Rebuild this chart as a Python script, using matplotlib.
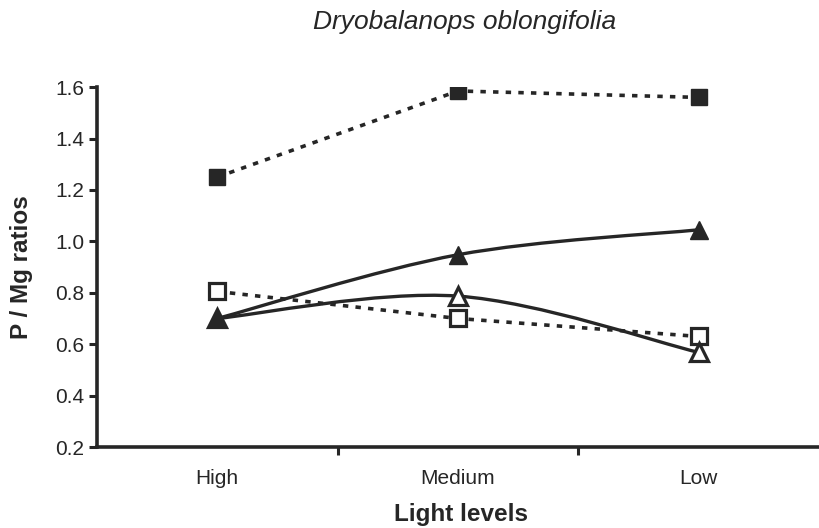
import numpy as np
import matplotlib
matplotlib.use('Agg')
import matplotlib.pyplot as plt
from matplotlib.path import Path
from matplotlib.patches import PathPatch

plt.rcParams['font.family'] = ['Liberation Sans', 'DejaVu Sans']

# Data
light_levels = ['High', 'Medium', 'Low']
filled_squares = [1.25, 1.585, 1.56]
open_squares = [0.805, 0.70, 0.63]
filled_triangles = [0.70, 0.948, 1.045]
open_triangles = [0.70, 0.787, 0.568]

INK = '#262626'


def smooth_path(xs, ys):
    """Bezier path through the points, like spreadsheet 'smoothed line'."""
    pts = np.column_stack([xs, ys]).astype(float)
    padded = np.vstack([pts[0], pts, pts[-1]])
    verts = [pts[0]]
    codes = [Path.MOVETO]
    for i in range(len(pts) - 1):
        p0, p1, p2, p3 = padded[i], padded[i + 1], padded[i + 2], padded[i + 3]
        c1 = p1 + (p2 - p0) / 6
        c2 = p2 - (p3 - p1) / 6
        verts += [c1, c2, p2]
        codes += [Path.CURVE4] * 3
    return Path(verts, codes)


fig = plt.figure(figsize=(8.19, 5.28), dpi=100)
ax = fig.add_axes([0.1184, 0.1534, 0.8816, 0.6816])

x = np.arange(len(light_levels))

# Dotted lines (squares)
ax.plot(x, filled_squares, linestyle=(0, (1.5, 2.0)), color=INK, lw=2.6, zorder=2)
ax.plot(x, open_squares, linestyle=(0, (1.5, 2.0)), color=INK, lw=2.6, zorder=2)

# Smoothed solid lines (triangles)
for series in (filled_triangles, open_triangles):
    ax.add_patch(PathPatch(smooth_path(x, series), facecolor='none',
                           edgecolor=INK, lw=2.4, zorder=2))

# Markers
ax.plot(x, filled_squares, linestyle='none', marker='s', ms=12,
        mfc=INK, mec=INK, zorder=4)
ax.plot(x, open_squares, linestyle='none', marker='s', ms=11,
        mfc='white', mec=INK, mew=2.3, zorder=4)
ax.plot(x, open_triangles, linestyle='none', marker='^', ms=12.5,
        mfc='white', mec=INK, mew=2.3, zorder=4)
ax.plot(x, filled_triangles, linestyle='none', marker='^', ms=13,
        mfc=INK, mec=INK, zorder=5)

ax.set_xlim(-0.5, 2.5)
ax.set_ylim(0.2, 1.6)

ax.set_yticks(np.arange(0.2, 1.61, 0.2))
ax.set_yticklabels([f'{v:.1f}' for v in np.arange(0.2, 1.61, 0.2)])
ax.set_xticks([0.5, 1.5])
ax.set_xticklabels([])
ax.set_xticks(x, minor=True)
ax.set_xticklabels(light_levels, minor=True)

ax.tick_params(axis='y', direction='out', length=6, width=2.2, color=INK,
               labelsize=15, labelcolor=INK, pad=3)
ax.tick_params(axis='x', which='major', direction='out', length=6, width=2.2, color=INK)
ax.tick_params(axis='x', which='minor', length=0, labelsize=15, labelcolor=INK, pad=16)

for side in ('top', 'right'):
    ax.spines[side].set_visible(False)
for side in ('left', 'bottom'):
    ax.spines[side].set_linewidth(2.6)
    ax.spines[side].set_color(INK)

ax.set_ylabel('P / Mg ratios', fontsize=17.5, fontweight='bold', color=INK)
ax.yaxis.set_label_coords(-0.088, 0.5)
fig.text(0.5625, 0.0133, 'Light levels', fontsize=17.5, fontweight='bold',
         color=INK, ha='center', va='baseline')
fig.text(0.5675, 0.958, 'Dryobalanops oblongifolia', fontsize=19, style='italic',
         color=INK, ha='center', va='center')

fig.savefig('out.png', dpi=100, facecolor='white')
